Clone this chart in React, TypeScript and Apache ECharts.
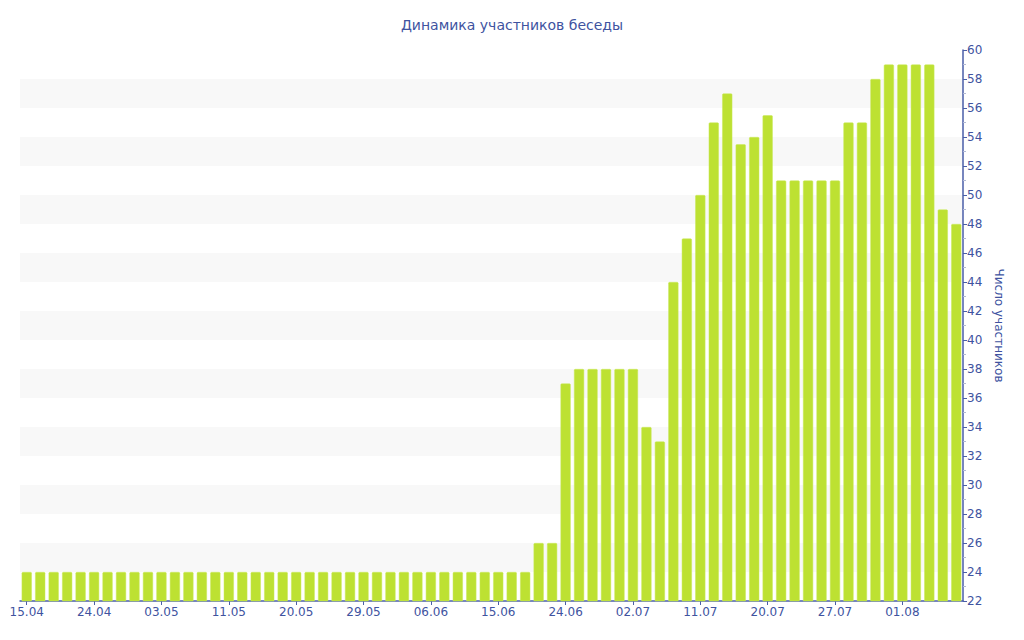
import React, { useEffect, useRef } from "react";
import * as echarts from "echarts";

const categories: string[] = [
  "15.04", "17.04", "19.04", "20.04", "22.04",
  "24.04", "26.04", "28.04", "30.04", "01.05",
  "03.05", "05.05", "07.05", "08.05", "10.05",
  "11.05", "13.05", "15.05", "17.05", "18.05",
  "20.05", "22.05", "24.05", "26.05", "27.05",
  "29.05", "31.05", "02.06", "03.06", "05.06",
  "06.06", "08.06", "10.06", "12.06", "13.06",
  "15.06", "17.06", "19.06", "21.06", "22.06",
  "24.06", "26.06", "28.06", "29.06", "01.07",
  "02.07", "04.07", "06.07", "08.07", "09.07",
  "11.07", "13.07", "15.07", "17.07", "18.07",
  "20.07", "21.07", "23.07", "24.07", "26.07",
  "27.07", "28.07", "29.07", "30.07", "31.07",
  "01.08", "02.08", "03.08", "04.08", "05.08",
];

const members: number[] = [
  24, 24, 24, 24, 24, 24, 24, 24, 24, 24,
  24, 24, 24, 24, 24, 24, 24, 24, 24, 24,
  24, 24, 24, 24, 24, 24, 24, 24, 24, 24,
  24, 24, 24, 24, 24, 24, 24, 24, 26, 26,
  37, 38, 38, 38, 38, 38, 34, 33, 44, 47,
  50, 55, 57, 53.5, 54, 55.5, 51, 51, 51, 51,
  51, 55, 55, 58, 59, 59, 59, 59, 49, 48,
];

const TITLE = "Динамика участников беседы";
const Y_NAME = "Число участников";

const AXIS_COLOR = "#4a5ea8";
const TEXT_COLOR = "#40539f";
const FONT = "DejaVu Sans, Verdana, sans-serif";

export default function App() {
  const ref = useRef<HTMLDivElement>(null);

  useEffect(() => {
    if (!ref.current) return;
    const chart = echarts.init(ref.current, undefined, { renderer: "svg" });
    chart.setOption({
      animation: false,
      backgroundColor: "#ffffff",
      title: {
        text: TITLE,
        left: "center",
        top: 13,
        textStyle: {
          color: TEXT_COLOR,
          fontSize: 14,
          fontWeight: "normal",
          fontFamily: FONT,
        },
      },
      grid: { left: 20, right: 61, top: 50, bottom: 39, containLabel: false },
      xAxis: {
        type: "category",
        data: categories,
        boundaryGap: true,
        axisLine: { lineStyle: { color: AXIS_COLOR, width: 1.5 } },
        axisTick: {
          show: true,
          alignWithLabel: true,
          interval: 4,
          length: 4,
          lineStyle: { color: AXIS_COLOR },
        },
        axisLabel: {
          interval: 4,
          color: TEXT_COLOR,
          fontSize: 12,
          fontFamily: FONT,
          margin: 5,
        },
        splitLine: { show: false },
      },
      yAxis: {
        type: "value",
        position: "right",
        min: 22,
        max: 60,
        interval: 2,
        name: Y_NAME,
        nameLocation: "middle",
        nameRotate: -90,
        nameGap: 30,
        nameTextStyle: { color: TEXT_COLOR, fontSize: 12, fontFamily: FONT },
        axisLine: { show: true, lineStyle: { color: AXIS_COLOR, width: 1.5 } },
        axisTick: { show: true, length: 4, inside: false, lineStyle: { color: AXIS_COLOR } },
        minorTick: { show: true, splitNumber: 2, length: 3, lineStyle: { color: "#b0b8d4" } },
        axisLabel: { color: TEXT_COLOR, fontSize: 12, fontFamily: FONT, margin: 4 },
        splitLine: { show: false },
        splitArea: { show: true, areaStyle: { color: ["#ffffff", "#f8f8f8"] } },
      },
      series: [
        {
          type: "bar",
          data: members,
          barCategoryGap: "25%",
          itemStyle: {
            color: "#bde132",
            borderColor: "#c9e85a",
            borderWidth: 0.5,
            borderRadius: [1, 1, 0, 0],
          },
        },
      ],
    });
    return () => chart.dispose();
  }, []);

  return <div ref={ref} style={{ width: 1024, height: 640, margin: -8 }} />;
}
